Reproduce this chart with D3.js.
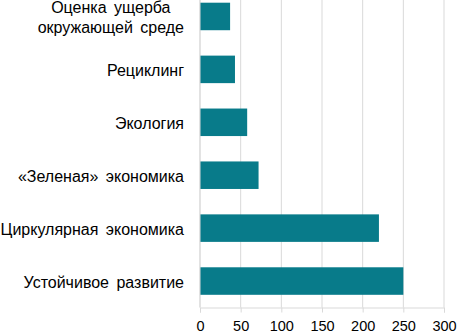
<!DOCTYPE html>
<html>
<head>
<meta charset="utf-8">
<script src="https://cdn.jsdelivr.net/npm/d3@7"></script>
<style>
  body { margin: 0; background: #fff; }
  svg { display: block; font-family: "Liberation Sans", Arial, sans-serif; }
</style>
</head>
<body>
<div id="chart"></div>
<script>
// Data
const categories = [
    ["Оценка ущерба", "окружающей среде"],
    ["Рециклинг"],
    ["Экология"],
    ["«Зеленая» экономика"],
    ["Циркулярная экономика"],
    ["Устойчивое развитие"]
];
const values = [37, 43, 58, 72, 220, 250];
const xTicks = [0, 50, 100, 150, 200, 250, 300];

const width = 457;
const height = 333;
const plotLeft = 200, plotRight = 444;
const plotTop = -10, plotBottom = 307.5;

const svg = d3.select("#chart")
    .append("svg")
    .attr("width", width)
    .attr("height", height);

const keys = categories.map((c, i) => i);

const xScale = d3.scaleLinear()
    .domain([0, 300])
    .range([plotLeft, plotRight]);

const yScale = d3.scaleBand()
    .domain(keys)
    .range([plotTop, plotBottom])
    .paddingInner(0.48)
    .paddingOuter(0.24);

// gridlines
svg.append("g")
    .selectAll("line")
    .data(xTicks)
    .join("line")
    .attr("x1", d => xScale(d))
    .attr("x2", d => xScale(d))
    .attr("y1", plotTop)
    .attr("y2", plotBottom)
    .style("stroke", "#d9d9d9")
    .style("stroke-width", 1);

// bars
svg.append("g")
    .selectAll("rect")
    .data(values)
    .join("rect")
    .attr("x", xScale(0))
    .attr("y", (d, i) => yScale(i))
    .attr("width", d => xScale(d) - xScale(0))
    .attr("height", yScale.bandwidth())
    .style("fill", "#087b8a");

// x axis
const xAxis = d3.axisBottom(xScale)
    .tickValues(xTicks)
    .tickSize(5)
    .tickPadding(8);

const gx = svg.append("g")
    .attr("transform", `translate(0,${plotBottom})`)
    .call(xAxis);

gx.select(".domain").style("stroke", "#d9d9d9");
gx.selectAll(".tick line").style("stroke", "#d9d9d9");
gx.selectAll(".tick text")
    .style("fill", "#000")
    .style("font-size", "14.5px")
    .style("font-family", "Liberation Sans, Arial, sans-serif");

// left axis line
svg.append("line")
    .attr("x1", plotLeft)
    .attr("x2", plotLeft)
    .attr("y1", plotTop)
    .attr("y2", plotBottom)
    .style("stroke", "#d9d9d9");

// category labels (multi-line labels centered as a block, block right-aligned)
const labelRight = 184;
const lineHeight = 20;

const labels = svg.append("g")
    .selectAll("text")
    .data(categories)
    .join("text")
    .style("font-size", "16px")
    .style("word-spacing", "3px")
    .style("fill", "#000")
    .attr("dominant-baseline", "central");

labels.each(function (lines, i) {
    const t = d3.select(this);
    const cy = yScale(i) + yScale.bandwidth() / 2 + 1;
    lines.forEach((line, j) => {
        t.append("tspan")
            .attr("y", cy + (j - (lines.length - 1) / 2) * lineHeight)
            .text(line);
    });
    // measure widest line, center each line inside that block
    const spans = t.selectAll("tspan").nodes();
    const widths = spans.map(s => s.getComputedTextLength());
    const maxW = d3.max(widths);
    const center = labelRight - maxW / 2;
    spans.forEach(s => {
        d3.select(s).attr("x", center).attr("text-anchor", "middle");
    });
});
</script>
</body>
</html>
